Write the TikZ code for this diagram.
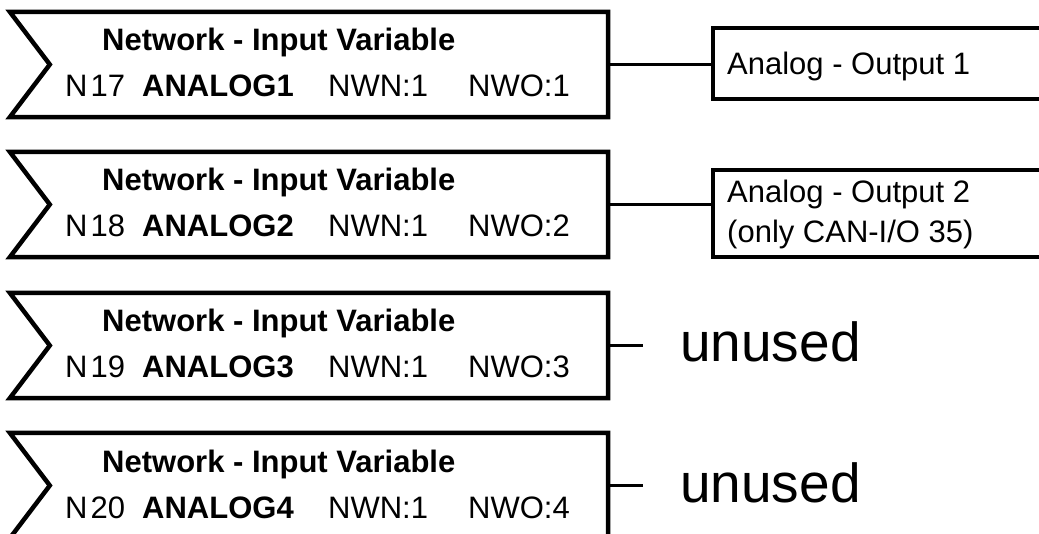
\documentclass[tikz,border=0pt]{standalone}
\usepackage{fontspec}
\setmainfont{Liberation Sans}
\begin{document}
\begin{tikzpicture}[x=1pt,y=-1pt,
  inbox/.style={rectangle,draw=none,inner sep=0pt,minimum width=598pt,minimum height=105pt},
  outbox/.style={rectangle,draw=none,inner sep=0pt,minimum width=329pt},
  boxline/.style={line width=4.5pt,line join=miter,black},
  conn/.style={line width=3pt,black},
  txt/.style={inner sep=0pt,anchor=base west,font=\fontsize{31}{37}\selectfont},
  txtb/.style={txt,font=\fontsize{31}{37}\selectfont\bfseries},
  big/.style={inner sep=0pt,anchor=base west,font=\fontsize{55}{62}\selectfont}]
\useasboundingbox (0,0) rectangle (1039,534);
\foreach \i/\top/\n/\a in {1/12/17/1, 2/152/18/2, 3/293/19/3, 4/433/20/4} {
  \node[inbox] (in\i) at (309,{\top+52.5}) {};
  \draw[boxline] (in\i.north west) -- (in\i.north east) -- (in\i.south east)
     -- (in\i.south west) -- ([xshift=40pt]in\i.west) -- cycle;
  \node[txtb] (hd\i) at (102,{\top+39}) {Network - Input Variable};
  \node[txt] (nn\i) at (65,{\top+85}) {N\kern3pt\n};
  \node[txtb] (an\i) at (142,{\top+85}) {ANALOG\a};
  \node[txt] (nwn\i) at (328,{\top+85}) {NWN:1};
  \node[txt] (nwo\i) at (468,{\top+85}) {NWO:\a};
}
% output boxes (open to the right edge)
\node[outbox,minimum height=71pt] (out1) at (877.5,63.5) {};
\draw[boxline] (out1.north east) -- (out1.north west) -- (out1.south west) -- (out1.south east);
\node[outbox,minimum height=87pt] (out2) at (877.5,213.5) {};
\draw[boxline] (out2.north east) -- (out2.north west) -- (out2.south west) -- (out2.south east);
\node[txt] (ot1) at (727,75) {Analog - Output 1};
\node[txt] (ot2a) at (727,203) {Analog - Output 2};
\node[txt] (ot2b) at (727,243) {(only CAN-I/O 35)};
% connectors
\draw[conn] (in1.east) -- (in1.east -| out1.west);
\draw[conn] (in2.east) -- (in2.east -| out2.west);
\coordinate (u3) at (643,345.5);
\coordinate (u4) at (643,485.5);
\draw[conn] (in3.east) -- (u3);
\draw[conn] (in4.east) -- (u4);
\node[big] (un3) at (680,362) {unused};
\node[big] (un4) at (680,502) {unused};
\end{tikzpicture}
\end{document}
